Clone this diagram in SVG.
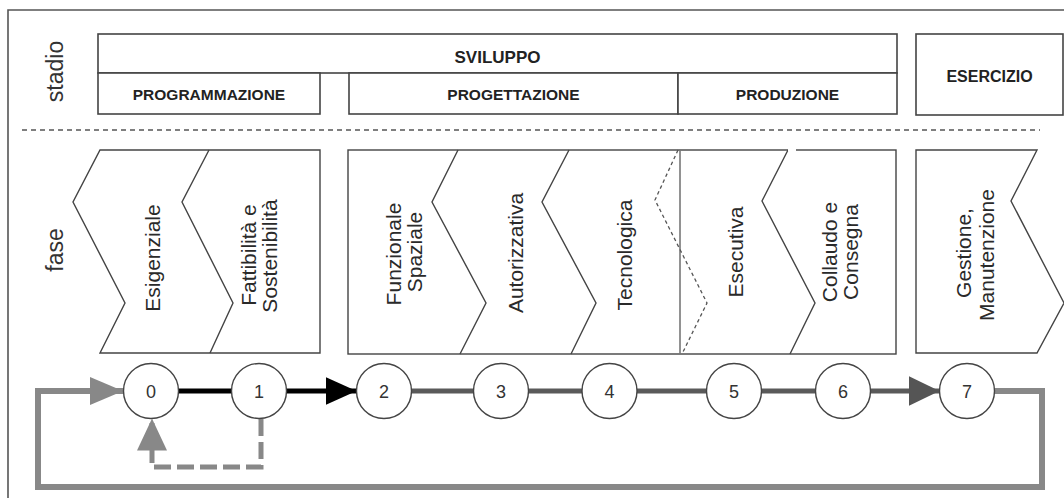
<svg xmlns="http://www.w3.org/2000/svg" width="1064" height="498" viewBox="0 0 1064 498">
<defs>
<style>
.box{fill:#fff;stroke:#444;stroke-width:1.6}
.ph{fill:#fff;stroke:#444;stroke-width:1.4;stroke-linejoin:miter}
.div{fill:none;stroke:#444;stroke-width:1.4}
.hd{font-family:"Liberation Sans",Arial,sans-serif;font-weight:bold;fill:#222;text-anchor:middle}
.lb{font-family:"Liberation Sans",Arial,sans-serif;font-size:21px;fill:#2a2a2a;text-anchor:middle}
.side{font-family:"Liberation Sans",Arial,sans-serif;font-size:23px;fill:#333;text-anchor:middle}
.nd{fill:#fff;stroke:#444;stroke-width:1.4}
.num{font-family:"Liberation Sans",Arial,sans-serif;font-size:18px;fill:#333;text-anchor:middle}
</style>
<marker id="ahBlack" markerUnits="userSpaceOnUse" markerWidth="32" markerHeight="28" refX="31" refY="14" orient="auto"><path d="M0,0 L31,14 L0,28 Z" fill="#000"/></marker>
<marker id="ahDark" markerUnits="userSpaceOnUse" markerWidth="32" markerHeight="30" refX="31" refY="15" orient="auto"><path d="M0,0 L31,15 L0,30 Z" fill="#555"/></marker>
<marker id="ahGray" markerUnits="userSpaceOnUse" markerWidth="33" markerHeight="28" refX="33" refY="14" orient="auto"><path d="M0,0 L33,14 L0,28 Z" fill="#888"/></marker>
<marker id="ahGrayUp" markerUnits="userSpaceOnUse" markerWidth="32" markerHeight="30" refX="32" refY="15" orient="auto"><path d="M0,0 L32,15 L0,30 Z" fill="#888"/></marker>
</defs>
<rect width="1064" height="498" fill="#fff"/>
<!-- frame -->
<path d="M8,498 V10 H1064" fill="none" stroke="#555" stroke-width="1.6"/>

<!-- side labels -->
<text class="side" x="63" y="71.5" transform="rotate(-90 63 71.5)">stadio</text>
<text class="side" x="63" y="250" transform="rotate(-90 63 250)">fase</text>

<!-- stadio row -->
<g id="sviluppo">
<rect class="box" x="98" y="34" width="799" height="39"/>
<text class="hd" x="497.5" y="63" font-size="17">SVILUPPO</text>
</g>
<g id="programmazione">
<rect class="box" x="98" y="73" width="222" height="41"/>
<text class="hd" x="209" y="100" font-size="15.5">PROGRAMMAZIONE</text>
</g>
<g id="progettazione">
<rect class="box" x="349" y="73" width="329" height="41"/>
<text class="hd" x="513.5" y="100" font-size="15.5">PROGETTAZIONE</text>
</g>
<g id="produzione">
<rect class="box" x="678" y="73" width="219" height="41"/>
<text class="hd" x="787.5" y="100" font-size="15.5">PRODUZIONE</text>
</g>
<g id="esercizio">
<rect class="box" x="916" y="34" width="147" height="81"/>
<text class="hd" x="989.5" y="81.5" font-size="16">ESERCIZIO</text>
</g>

<!-- dashed separator -->
<line x1="22" y1="130" x2="1040" y2="130" stroke="#555" stroke-width="1.4" stroke-dasharray="5,4"/>

<!-- phase group 1 -->
<g id="phases-programmazione">
<path class="ph" d="M100,150 L320,150 L320,353 L100,353 L125,303 L73,202 Z"/>
<path class="div" d="M209,150 L182,202 L233,303 L210,353"/>
</g>
<g id="fase-esigenziale">
<text class="lb" x="160" y="258" transform="rotate(-90 160 258)">Esigenziale</text>
</g>
<g id="fase-fattibilita">
<text class="lb" x="256" y="255" transform="rotate(-90 256 255)">Fattibilità e</text>
<text class="lb" x="277" y="256" transform="rotate(-90 277 256)">Sostenibilità</text>
</g>

<!-- phase group 2 -->
<g id="phases-sviluppo">
<rect class="ph" x="348" y="150" width="548" height="204"/>
<path class="div" d="M458,150 L432,202 L486,303 L460,354"/>
<path class="div" d="M569,150 L542,202 L596,303 L571,354"/>
<line x1="680" y1="150" x2="680" y2="354" stroke="#777" stroke-width="1.6"/>
<path d="M678,150 L655,200 L707,303 L682,354" fill="none" stroke="#555" stroke-width="1.3" stroke-dasharray="3.5,3"/>
<path class="div" d="M788,150 L762,201 L815,303 L790,354"/>
<line x1="788" y1="150" x2="796" y2="150" stroke="#fff" stroke-width="2.5"/>
</g>
<g id="fase-funzionale">
<text class="lb" x="401" y="254" transform="rotate(-90 401 254)">Funzionale</text>
<text class="lb" x="422" y="252" transform="rotate(-90 422 252)">Spaziale</text>
</g>
<g id="fase-autorizzativa">
<text class="lb" x="523" y="253" transform="rotate(-90 523 253)">Autorizzativa</text>
</g>
<g id="fase-tecnologica">
<text class="lb" x="632" y="255" transform="rotate(-90 632 255)">Tecnologica</text>
</g>
<g id="fase-esecutiva">
<text class="lb" x="743" y="252" transform="rotate(-90 743 252)">Esecutiva</text>
</g>
<g id="fase-collaudo">
<text class="lb" x="837" y="252" transform="rotate(-90 837 252)">Collaudo e</text>
<text class="lb" x="858" y="252" transform="rotate(-90 858 252)">Consegna</text>
</g>

<!-- phase group 3 -->
<g id="fase-gestione">
<path class="ph" d="M916,150 L1037,150 L1011,201 L1064,303 L1037,353 L916,353 Z"/>
<text class="lb" x="971" y="253" transform="rotate(-90 971 253)">Gestione,</text>
<text class="lb" x="994" y="255" transform="rotate(-90 994 255)">Manutenzione</text>
</g>

<!-- connectors -->
<g id="connectors" fill="none">
<line x1="178" y1="391" x2="232" y2="391" stroke="#000" stroke-width="5"/>
<line x1="286" y1="391" x2="356.5" y2="391" stroke="#000" stroke-width="5" marker-end="url(#ahBlack)"/>
<line x1="411" y1="391" x2="474" y2="391" stroke="#5a5a5a" stroke-width="5"/>
<line x1="528" y1="391" x2="582" y2="391" stroke="#5a5a5a" stroke-width="5"/>
<line x1="637" y1="391" x2="707" y2="391" stroke="#5a5a5a" stroke-width="5"/>
<line x1="761" y1="391" x2="815" y2="391" stroke="#5a5a5a" stroke-width="5"/>
<line x1="870" y1="391" x2="939.5" y2="391" stroke="#5a5a5a" stroke-width="5" marker-end="url(#ahDark)"/>
<path d="M994,391 H1042 V487 H38 V391 H123" stroke="#888" stroke-width="6" marker-end="url(#ahGray)"/>
<path d="M261,419 V467 H152 V418.5" stroke="#888" stroke-width="5" stroke-dasharray="17,6" marker-end="url(#ahGrayUp)"/>
</g>

<!-- nodes -->
<g id="n0"><circle class="nd" cx="151" cy="391" r="27.5"/><text class="num" x="151" y="398">0</text></g>
<g id="n1"><circle class="nd" cx="259" cy="391" r="27.5"/><text class="num" x="259" y="398">1</text></g>
<g id="n2"><circle class="nd" cx="384" cy="391" r="27.5"/><text class="num" x="384" y="398">2</text></g>
<g id="n3"><circle class="nd" cx="501" cy="391" r="27.5"/><text class="num" x="501" y="398">3</text></g>
<g id="n4"><circle class="nd" cx="609.5" cy="391" r="27.5"/><text class="num" x="609.5" y="398">4</text></g>
<g id="n5"><circle class="nd" cx="734" cy="391" r="27.5"/><text class="num" x="734" y="398">5</text></g>
<g id="n6"><circle class="nd" cx="843" cy="391" r="27.5"/><text class="num" x="843" y="398">6</text></g>
<g id="n7"><circle class="nd" cx="967" cy="391" r="27.5"/><text class="num" x="967" y="398">7</text></g>
</svg>
